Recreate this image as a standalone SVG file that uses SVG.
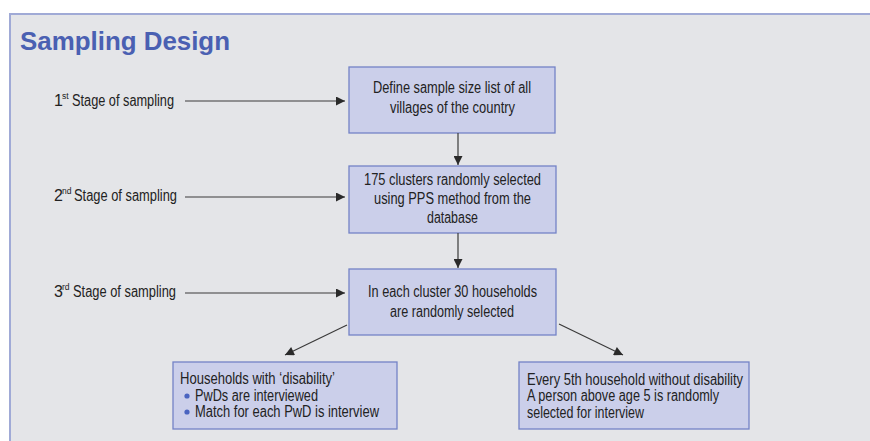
<svg xmlns="http://www.w3.org/2000/svg" width="870" height="441" viewBox="0 0 870 441">
<defs>
<style>
.t{font-family:"Liberation Sans",Arial,sans-serif;font-size:16px;fill:#222222}
.sup{font-family:"Liberation Sans",Arial,sans-serif;font-size:8.5px;fill:#222222}
.box{fill:#cbcfea;stroke:#7383c6;stroke-width:1.3}
.ln{stroke:#3a3a3a;stroke-width:1.2;fill:none}
.title{font-family:"Liberation Sans",Arial,sans-serif;font-size:26px;font-weight:bold;fill:#4a60b2}
</style>
<marker id="ah" viewBox="0 0 10 10" refX="10" refY="5" markerWidth="11" markerHeight="9" markerUnits="userSpaceOnUse" orient="auto">
<path d="M0,0 L10,5 L0,10 z" fill="#2a2a2a"/>
</marker>
</defs>
<rect x="0" y="0" width="870" height="441" fill="#ffffff"/>
<rect x="10" y="14" width="880" height="440" fill="#e4e5e8" stroke="#a0aad6" stroke-width="2"/>
<text class="title" x="20" y="50" textLength="210" lengthAdjust="spacingAndGlyphs">Sampling Design</text>

<g id="stage1">
<text class="t" x="54" y="106">1</text>
<text class="sup" x="62" y="99">st</text>
<text class="t" x="72" y="106" textLength="102" lengthAdjust="spacingAndGlyphs">Stage of sampling</text>
</g>
<g id="stage2">
<text class="t" x="54" y="201">2</text>
<text class="sup" x="62" y="194">nd</text>
<text class="t" x="74" y="201" textLength="103" lengthAdjust="spacingAndGlyphs">Stage of sampling</text>
</g>
<g id="stage3">
<text class="t" x="54" y="297">3</text>
<text class="sup" x="62" y="290">rd</text>
<text class="t" x="73" y="297" textLength="103" lengthAdjust="spacingAndGlyphs">Stage of sampling</text>
</g>

<g id="box1">
<rect class="box" x="349" y="67" width="206" height="66"/>
<text class="t" x="373" y="93" textLength="158" lengthAdjust="spacingAndGlyphs">Define sample size list of all</text>
<text class="t" x="390" y="113" textLength="125" lengthAdjust="spacingAndGlyphs">villages of the country</text>
</g>
<g id="box2">
<rect class="box" x="349" y="166" width="207" height="67"/>
<text class="t" x="364" y="185" textLength="177" lengthAdjust="spacingAndGlyphs">175 clusters randomly selected</text>
<text class="t" x="374" y="204" textLength="157" lengthAdjust="spacingAndGlyphs">using PPS method from the</text>
<text class="t" x="427" y="223" textLength="51" lengthAdjust="spacingAndGlyphs">database</text>
</g>
<g id="box3">
<rect class="box" x="349" y="269" width="207" height="66"/>
<text class="t" x="368" y="297" textLength="169" lengthAdjust="spacingAndGlyphs">In each cluster 30 households</text>
<text class="t" x="390" y="317" textLength="124" lengthAdjust="spacingAndGlyphs">are randomly selected</text>
</g>
<g id="box4">
<rect class="box" x="173" y="362" width="224" height="67"/>
<text class="t" x="180" y="384" textLength="155" lengthAdjust="spacingAndGlyphs">Households with ‘disability’</text>
<circle cx="187" cy="396" r="2.6" fill="#4a64c0"/>
<text class="t" x="195" y="401" textLength="123" lengthAdjust="spacingAndGlyphs">PwDs are interviewed</text>
<circle cx="187" cy="412" r="2.6" fill="#4a64c0"/>
<text class="t" x="195" y="417" textLength="184" lengthAdjust="spacingAndGlyphs">Match for each PwD is interview</text>
</g>
<g id="box5">
<rect class="box" x="519" y="362" width="230" height="67"/>
<text class="t" x="527" y="385" textLength="216" lengthAdjust="spacingAndGlyphs">Every 5th household without disability</text>
<text class="t" x="527" y="401" textLength="192" lengthAdjust="spacingAndGlyphs">A person above age 5 is randomly</text>
<text class="t" x="527" y="418" textLength="117" lengthAdjust="spacingAndGlyphs">selected for interview</text>
</g>

<g id="connectors">
<line class="ln" x1="185" y1="101" x2="345" y2="101" marker-end="url(#ah)"/>
<line class="ln" x1="185" y1="197" x2="345" y2="197" marker-end="url(#ah)"/>
<line class="ln" x1="185" y1="293" x2="345" y2="293" marker-end="url(#ah)"/>
<line class="ln" x1="458" y1="133" x2="458" y2="165" marker-end="url(#ah)"/>
<line class="ln" x1="458" y1="233" x2="458" y2="268" marker-end="url(#ah)"/>
<line class="ln" x1="347" y1="325" x2="285" y2="355" marker-end="url(#ah)"/>
<line class="ln" x1="559" y1="324" x2="623" y2="355" marker-end="url(#ah)"/>
</g>
</svg>
